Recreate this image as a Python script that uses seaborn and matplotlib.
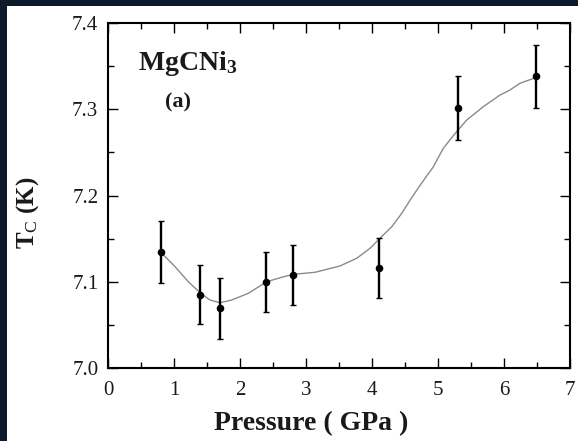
import matplotlib
matplotlib.use("Agg")
import matplotlib.pyplot as plt
import seaborn as sns
import pandas as pd
from matplotlib.patches import Rectangle
from matplotlib.ticker import MultipleLocator

# ---- data ----
pressure = [0.80, 1.39, 1.70, 2.40, 2.81, 4.11, 5.30, 6.49]
tc = [7.135, 7.085, 7.069, 7.100, 7.108, 7.116, 7.301, 7.338]
tc_err = [0.036, 0.034, 0.035, 0.035, 0.035, 0.035, 0.037, 0.036]

curve_p = [0.79, 1.015, 1.217, 1.405, 1.545, 1.697, 1.874, 2.126, 2.405, 2.632,
           2.808, 3.14, 3.515, 3.768, 3.97, 4.12, 4.30, 4.45, 4.58, 4.73,
           4.93, 5.08, 5.26, 5.435, 5.686, 5.94, 6.09, 6.24, 6.49]
curve_tc = [7.135, 7.1175, 7.100, 7.0866, 7.0788, 7.0757, 7.0788, 7.0866, 7.100, 7.1052,
            7.1086, 7.111, 7.1183, 7.1272, 7.1388, 7.1504, 7.1638, 7.1793, 7.195, 7.212,
            7.2334, 7.2547, 7.272, 7.2875, 7.303, 7.3165, 7.3223, 7.330, 7.337]

x_ticks = [0, 1, 2, 3, 4, 5, 6, 7]
y_ticks = [7.0, 7.1, 7.2, 7.3, 7.4]
y_tick_labels = ["7.0", "7.1", "7.2", "7.3", "7.4"]

pts = pd.DataFrame({"P": pressure, "Tc": tc, "err": tc_err})
fit = pd.DataFrame({"P": curve_p, "Tc": curve_tc})

sns.set_theme(style="ticks")
plt.rcParams["font.family"] = ["Liberation Serif", "DejaVu Serif"]
plt.rcParams["mathtext.fontset"] = "custom"
plt.rcParams["mathtext.rm"] = "Liberation Serif"
plt.rcParams["mathtext.it"] = "Liberation Serif:italic"
plt.rcParams["mathtext.bf"] = "Liberation Serif:bold"

fig = plt.figure(figsize=(5.78, 4.41), dpi=100, facecolor="white")
# dark background strips (left and top edges)
fig.patches.append(Rectangle((0, 0), 7 / 578, 1, transform=fig.transFigure,
                             facecolor="#0c1a2c", edgecolor="none", zorder=0))
fig.patches.append(Rectangle((0, 1 - 6 / 441), 1, 6 / 441, transform=fig.transFigure,
                             facecolor="#0c1a2c", edgecolor="none", zorder=0))

ax = fig.add_axes([108 / 578, 1 - 368 / 441, 462 / 578, 345 / 441])

sns.lineplot(data=fit, x="P", y="Tc", ax=ax, color="#8a8a8a", linewidth=1.0,
             sort=False, zorder=2)
ax.errorbar(pts["P"], pts["Tc"], yerr=pts["err"], fmt="none", ecolor="black",
            elinewidth=1.7, capsize=2.5, capthick=1.0, zorder=3)
sns.scatterplot(data=pts, x="P", y="Tc", ax=ax, color="black", s=30,
                edgecolor="black", linewidth=0, zorder=4)

ax.set_xlim(0, 7)
ax.set_ylim(7.0, 7.4)
ax.set_xticks(x_ticks)
ax.set_yticks(y_ticks)
ax.set_yticklabels(y_tick_labels)
ax.xaxis.set_minor_locator(MultipleLocator(0.5))
ax.yaxis.set_minor_locator(MultipleLocator(0.05))
ax.tick_params(which="both", direction="in", top=True, right=True,
               colors="black", labelcolor="#1a1a1a", width=1.0)
ax.tick_params(which="major", length=7, labelsize=15)
ax.tick_params(axis="x", which="major", pad=9.5)
ax.tick_params(axis="y", which="major", pad=7)
ax.tick_params(which="minor", length=4)
for s in ax.spines.values():
    s.set_linewidth(1.5)
    s.set_color("black")

ax.set_xlabel("Pressure ( GPa )", fontsize=20, fontweight="bold", color="#1a1a1a")
ax.set_ylabel(r"$\mathbf{T}_{\mathrm{C}}$ (K)", fontsize=18, fontweight="bold", color="#1a1a1a")
ax.xaxis.set_label_coords(0.439, -0.125)
ax.yaxis.set_label_coords(-0.145, 0.45)

ax.text(0.45, 7.353, r"MgCNi$_{\mathbf{3}}$", fontsize=20, fontweight="bold",
        color="#1a1a1a", ha="left", va="center")
ax.text(1.06, 7.308, "(a)", fontsize=16, fontweight="bold", color="#1a1a1a",
        ha="center", va="center")

fig.savefig("out.png", dpi=100, facecolor="white")
